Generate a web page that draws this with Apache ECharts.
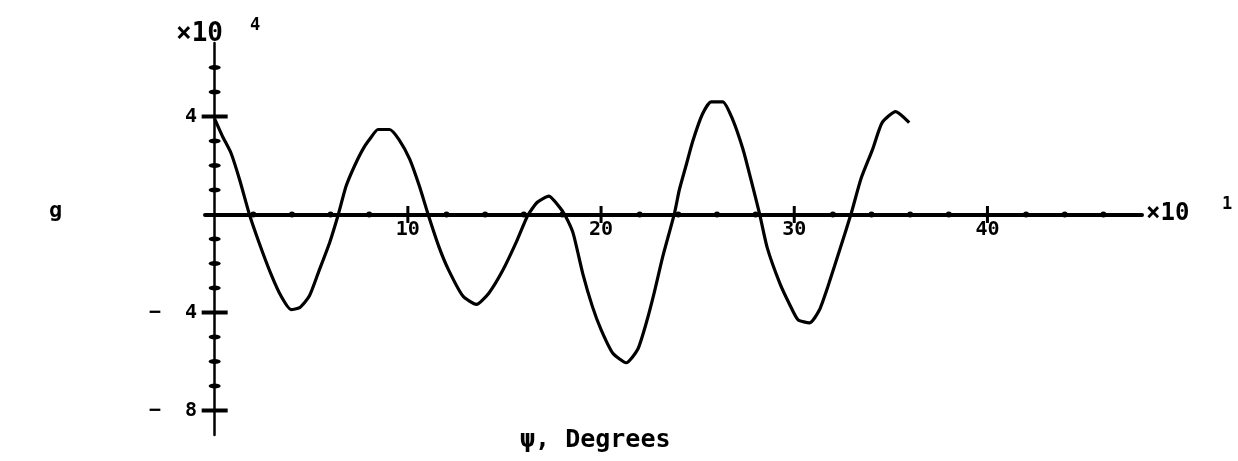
<!DOCTYPE html>
<html>
<head>
<meta charset="utf-8">
<script src="https://cdn.jsdelivr.net/npm/echarts@6/dist/echarts.min.js"></script>
<style>
  html, body { margin: 0; padding: 0; background: #fff; }
  #chart { width: 1238px; height: 461px; }
</style>
</head>
<body>
<div id="chart"></div>
<script>
// psi, in units of 10 degrees
const psi = [0, 0.4, 0.85, 1.3, 1.8, 2.3, 2.9, 3.45, 3.95, 4.4, 4.9, 5.4, 5.95, 6.4, 6.8, 7.25, 7.7, 8.1, 8.45, 9.05,
  9.55, 10.1, 10.6, 11.05, 11.6, 12.1, 12.85, 13.55, 14.2, 14.9, 15.6, 16.2, 16.7, 17.3, 17.85, 18.15, 18.55, 19.05,
  19.55, 20.0, 20.6, 21.3, 21.9, 22.35, 22.75, 23.2, 23.8, 24.05, 24.4, 24.75, 25.25, 25.7, 26.3, 26.8, 27.35, 27.75,
  28.2, 28.6, 29.25, 29.75, 30.2, 30.8, 31.3, 31.8, 32.35, 32.95, 33.45, 34.05, 34.55, 35.25, 35.95];
// g, in units of 1e-4
const g = [3.9, 3.2, 2.5, 1.4, 0, -1.15, -2.4, -3.35, -3.88, -3.8, -3.33, -2.3, -1.15, 0, 1.15, 2.0, 2.7, 3.15, 3.47, 3.47,
  3.05, 2.25, 1.15, 0, -1.3, -2.25, -3.33, -3.67, -3.2, -2.3, -1.15, -0.05, 0.5, 0.75, 0.3, -0.05, -0.75, -2.4,
  -3.75, -4.7, -5.65, -6.05, -5.5, -4.4, -3.2, -1.7, 0.05, 1.0, 2.0, 3.0, 4.1, 4.6, 4.6, 3.9, 2.65, 1.45,
  0.05, -1.35, -2.8, -3.65, -4.3, -4.42, -3.9, -2.8, -1.45, 0.05, 1.45, 2.65, 3.75, 4.2, 3.75];

// axis tick values
const xLabelTicks = [10, 20, 30, 40];
const xMinorTicks = [2, 4, 6, 8, 12, 14, 16, 18, 22, 24, 26, 28, 32, 34, 36, 38, 42, 44, 46];
const yLabelTicks = [4, -4, -8];
const yMinorTicks = [6, 5, 3, 2, 1, -1, -2, -3, -5, -6, -7];

const FONT = '"DejaVu Sans Mono", monospace';
const INK = '#000';

const chart = echarts.init(document.getElementById('chart'), null, { renderer: 'canvas' });

const textStyle = (size) => ({ fontFamily: FONT, fontWeight: 'bold', fontSize: size, fill: INK });
const tickStyle = { color: INK, opacity: 1 };

chart.setOption({
  animation: false,
  backgroundColor: '#fff',
  grid: { left: 205, right: 96, top: 43, bottom: 26, containLabel: false },
  xAxis: {
    type: 'value', min: -0.5, max: 48,
    axisLine: { onZero: true, lineStyle: { color: INK, width: 4 } },
    axisTick: { show: false },
    splitLine: { show: false },
    axisLabel: { show: false }
  },
  yAxis: {
    type: 'value', min: -9, max: 7,
    axisLine: { onZero: true, lineStyle: { color: INK, width: 2.5 } },
    axisTick: { show: false },
    splitLine: { show: false },
    axisLabel: {
      customValues: yLabelTicks, margin: 8,
      color: INK, fontFamily: FONT, fontWeight: 'bold', fontSize: 20,
      formatter: v => (v < 0 ? '\u2212  ' + Math.abs(v) : String(v))
    }
  },
  series: [
    {
      type: 'line', data: psi.map((x, i) => [x, g[i]]),
      showSymbol: false, smooth: 0.2,
      lineStyle: { color: INK, width: 3.2 }, silent: true, z: 3
    },
    // major x ticks crossing the axis, with their labels below
    {
      type: 'scatter', silent: true, z: 4, symbol: 'rect', symbolSize: [3, 17],
      itemStyle: tickStyle, data: xLabelTicks.map(v => [v, 0]),
      label: {
        show: true, position: 'bottom', distance: -3,
        color: INK, fontFamily: FONT, fontWeight: 'bold', fontSize: 20,
        formatter: p => String(p.value[0])
      }
    },
    {
      type: 'scatter', silent: true, z: 4, symbol: 'circle', symbolSize: [6, 6],
      itemStyle: tickStyle, data: xMinorTicks.map(v => [v, 0])
    },
    {
      type: 'scatter', silent: true, z: 4, symbol: 'rect', symbolSize: [26, 4],
      itemStyle: tickStyle, data: yLabelTicks.map(v => [0, v])
    },
    {
      type: 'scatter', silent: true, z: 4, symbol: 'circle', symbolSize: [12, 5],
      itemStyle: tickStyle, data: yMinorTicks.map(v => [0, v])
    }
  ],
  graphic: [
    { type: 'text', left: 176, top: 21, style: Object.assign({ text: '\u00d710' }, textStyle(26)) },
    { type: 'text', left: 250, top: 17, style: Object.assign({ text: '4' }, textStyle(17)) },
    { type: 'text', left: 1146, top: 202, style: Object.assign({ text: '\u00d710' }, textStyle(24)) },
    { type: 'text', left: 1222, top: 196, style: Object.assign({ text: '1' }, textStyle(17)) },
    { type: 'text', left: 49, top: 200, style: Object.assign({ text: 'g' }, textStyle(22)) },
    { type: 'text', left: 520, top: 428, style: Object.assign({ text: '\u03c8, Degrees' }, textStyle(25)) }
  ]
});
</script>
</body>
</html>
